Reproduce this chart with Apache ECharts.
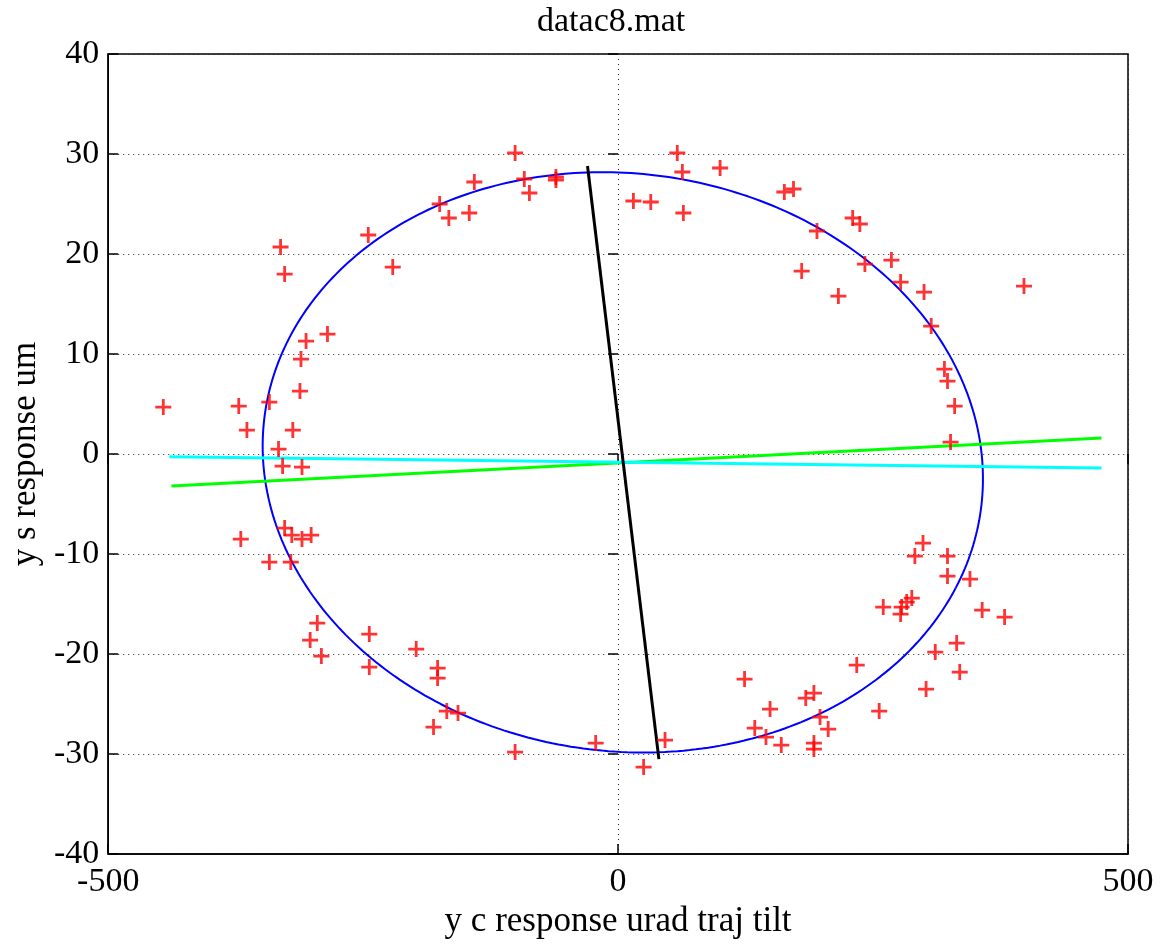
<!DOCTYPE html>
<html>
<head>
<meta charset="utf-8">
<title>datac8.mat</title>
<script src="https://cdn.jsdelivr.net/npm/echarts@6/dist/echarts.min.js"></script>
<style>
    html, body { margin: 0; padding: 0; background: #fff; }
    #chart { width: 1160px; height: 944px; }
</style>
</head>
<body>
<div id="chart"></div>
<script>
// Measured points (red +)
const ptX = [
    -331, -327, -245, -221, -285, -306, -311, -312, -446, -372, -342, -364, -319, -333,
    -329, -310, -327, -320, -310, -301, -370, -342, -321, -295, -302, -291, -244, -244,
    -198, -177, -177, -168, -157, -181, -101, -22, 25, 46,
    124, 149, 134, 145, 160, 184, 192, 198, 206, 192, 192, 234, 256, 260, 278, 277, 288, 283,
    291, 299, 323, 323, 345, 357, 379, 311, 332, 335, 302,
    100, 163, 172, 230, 237, 195, 180, 216, 242, 268, 277, 300, 307, 398, 320, 323, 330, 326,
    -175, -166, -146, -141, -101, -92, -87, -61, -61, 15, 32, 58, 63, 64
];
const ptY = [
    20.7, 18.0, 21.9, 18.7, 12.0, 11.3, 9.5, 6.3, 4.7, 4.8, 5.2, 2.4, 2.4, 0.5,
    -1.2, -1.3, -7.4, -8.1, -8.5, -8.1, -8.5, -10.8, -10.8, -16.9, -18.6, -20.2, -18.0, -21.3,
    -19.5, -21.4, -22.4, -25.7, -25.9, -27.3, -29.8, -28.9, -31.3, -28.6,
    -22.5, -25.5, -27.4, -28.3, -29.1, -24.4, -23.9, -26.3, -27.5, -28.9, -29.5, -21.1, -25.7, -15.3, -15.3, -16.0, -14.4, -14.8,
    -10.2, -8.9, -10.2, -12.2, -12.5, -15.6, -16.3, -19.8, -18.9, -21.8, -23.5,
    28.6, 26.2, 26.5, 23.6, 23.0, 22.3, 18.3, 15.8, 19.0, 19.4, 17.2, 16.2, 12.8, 16.8, 8.5, 7.3, 4.8, 1.2,
    25.0, 23.6, 24.1, 27.2, 30.1, 27.5, 26.1, 27.7, 27.4, 25.3, 25.2, 30.1, 28.2, 24.1
];

// Fitted ellipse: centre, semi axes and skew
const ellCenter = [4.6, -0.83];
const ellAxes = [353, 29.0];
const ellSkew = [10.5, 0.77];

// Straight lines, end points
const blackLine = [[-30, 28.8], [40, -30.5]];
const greenLine = [[-438, -3.2], [474, 1.6]];
const cyanLine = [[-440, -0.27], [474, -1.4]];

const xTicks = [-500, 0, 500];
const yRange = [-40, 40];

const chart = echarts.init(document.getElementById('chart'));

const points = ptX.map((x, i) => [x, ptY[i]]);

const ellipse = [];
for (let i = 0; i <= 360; i++) {
    const t = i * Math.PI / 180;
    ellipse.push([
        ellCenter[0] + ellAxes[0] * Math.cos(t) - ellSkew[0] * Math.sin(t),
        ellCenter[1] + ellAxes[1] * Math.sin(t) - ellSkew[1] * Math.cos(t)
    ]);
}

const font = 'Liberation Serif';
const dotted = { color: '#222', width: 1, type: [1, 4] };
const tickStyle = { color: '#000', width: 1.5 };

function lineSeries(data, color, width, z) {
    return {
        type: 'line',
        data: data,
        showSymbol: false,
        symbol: 'none',
        lineStyle: { color: color, width: width },
        z: z,
        silent: true
    };
}

const plus = 'path://M6.6,0 H9.4 V6.6 H16 V9.4 H9.4 V16 H6.6 V9.4 H0 V6.6 H6.6 Z';

chart.setOption({
    animation: false,
    backgroundColor: '#fff',
    // title centred over the plot box, not the whole canvas
    graphic: [{
        type: 'text',
        left: 617 - 80,
        top: 5,
        style: {
            text: 'datac8.mat',
            width: 160,
            align: 'center',
            fontFamily: font,
            fontSize: 34,
            fill: '#000'
        }
    }],
    grid: {
        left: 106, right: 32, top: 54, bottom: 89,
        show: true, borderColor: '#000', borderWidth: 1.5
    },
    xAxis: [{
        type: 'value',
        min: xTicks[0], max: xTicks[2], interval: 500,
        name: 'y c response urad traj tilt',
        nameLocation: 'middle',
        nameGap: 46,
        nameTextStyle: { fontFamily: font, fontSize: 35, color: '#000' },
        axisLine: { show: true, onZero: false, lineStyle: tickStyle },
        axisTick: { show: true, inside: true, length: 10, lineStyle: tickStyle },
        axisLabel: { fontFamily: font, fontSize: 34, color: '#000', margin: 11 },
        splitLine: { show: true, lineStyle: dotted }
    }, {
        type: 'value', position: 'top',
        min: xTicks[0], max: xTicks[2], interval: 500,
        axisLine: { show: false },
        axisTick: { show: true, inside: true, length: 10, lineStyle: tickStyle },
        axisLabel: { show: false },
        splitLine: { show: false }
    }],
    yAxis: [{
        type: 'value',
        min: yRange[0], max: yRange[1], interval: 10,
        name: 'y s response um',
        nameLocation: 'middle',
        nameGap: 64,
        nameTextStyle: { fontFamily: font, fontSize: 35, color: '#000' },
        axisLine: { show: true, onZero: false, lineStyle: tickStyle },
        axisTick: { show: true, inside: true, length: 10, lineStyle: tickStyle },
        axisLabel: { fontFamily: font, fontSize: 34, color: '#000', margin: 9 },
        splitLine: { show: true, lineStyle: dotted }
    }, {
        type: 'value', position: 'right',
        min: yRange[0], max: yRange[1], interval: 10,
        axisLine: { show: false },
        axisTick: { show: true, inside: true, length: 10, lineStyle: tickStyle },
        axisLabel: { show: false },
        splitLine: { show: false }
    }],
    series: [
        lineSeries(ellipse, '#0000ff', 2, 2),
        lineSeries(greenLine, '#00ff00', 3, 3),
        lineSeries(cyanLine, '#00ffff', 3, 4),
        lineSeries(blackLine, '#000000', 3, 5),
        {
            type: 'scatter',
            data: points,
            symbol: plus,
            symbolSize: 16,
            itemStyle: { color: '#ff0000' },
            z: 6,
            silent: true
        }
    ]
});
</script>
</body>
</html>
